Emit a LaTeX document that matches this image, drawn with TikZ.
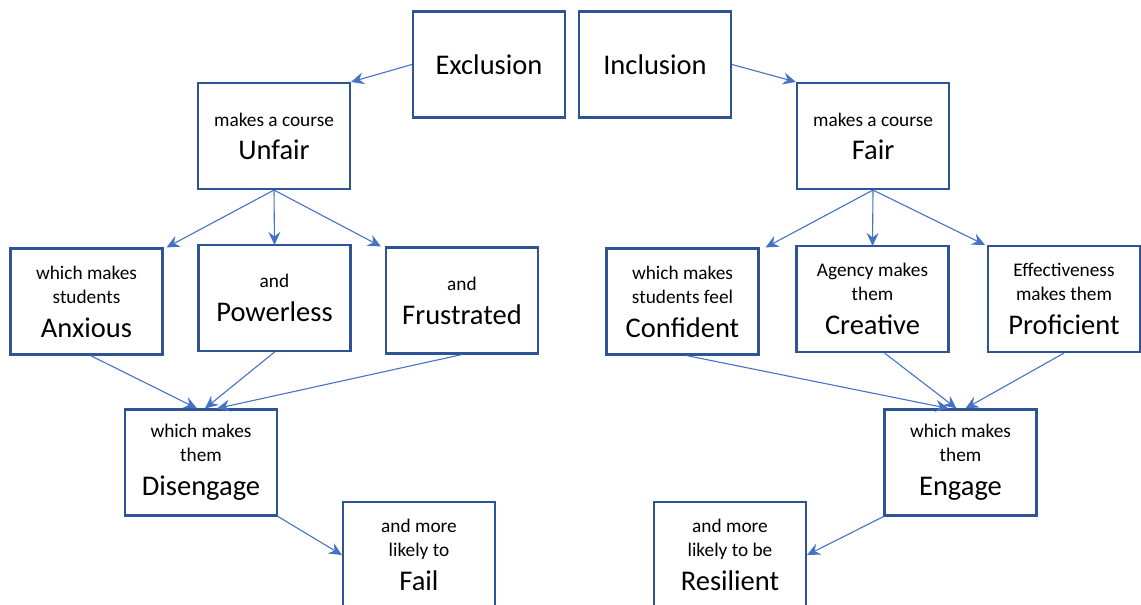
\documentclass[tikz,border=0pt]{standalone}
\usepackage{fontspec}
\setmainfont{Carlito}
\usetikzlibrary{arrows.meta}
\definecolor{boxblue}{HTML}{2F5496}
\definecolor{linkblue}{HTML}{4472C4}
\newcommand{\smalltxt}{\fontsize{19.3}{24}\selectfont}
\newcommand{\bigtxt}{\fontsize{28.5}{30}\selectfont}

\begin{document}
\begin{tikzpicture}[
		x=1pt, y=-1pt,
		every node/.style={
			draw=boxblue,
			line width=2.1pt,
			fill=white,
			align=center,
			inner sep=2pt,
			minimum width=152pt,
			minimum height=106pt,
			font=\smalltxt
		},
		flow/.style={
			-{Stealth[length=13pt,width=12pt,inset=4.5pt]},
			draw=linkblue,
			line width=1.1pt
		}
		]
		
		\useasboundingbox (0,0) rectangle (1141,605);
		
		% top row
		\node (excl) at (489,64.5) {{\bigtxt Exclusion}};
		\node (incl) at (655,64.5) {{\bigtxt Inclusion}};
		
		\node (unfair) at (274,136) {makes a course\\[9pt]{\bigtxt Unfair}};
		\node (fair) at (873,136) {makes a course\\[9pt]{\bigtxt Fair}};
		
		% feelings
		\node (anx) at (86.5,301.5) {which makes\\students\\[10pt]{\bigtxt Anxious}};
		\node (pow) at (274.5,298) {and\\[10pt]{\bigtxt Powerless}};
		\node (frus) at (462,300.5) {and\\[10pt]{\bigtxt Frustrated}};
		
		\node (conf) at (682.5,301.5) {which makes\\students feel\\[10pt]{\bigtxt Confident}};
		\node (crea) at (872.5,299) {Agency makes\\them\\[10pt]{\bigtxt Creative}};
		\node (prof) at (1064,299) {Effectiveness\\makes them\\[10pt]{\bigtxt Proficient}};
		
		% outcomes
		\node (dis) at (201,462.5) {which makes\\them\\[10pt]{\bigtxt Disengage}};
		\node (eng) at (960.5,462.5) {which makes\\them\\[10pt]{\bigtxt Engage}};
		
		\node (fail) at (419,555) {and more\\likely to\\[10pt]{\bigtxt Fail}};
		\node (resil) at (730,555) {and more\\likely to be\\[10pt]{\bigtxt Resilient}};
		
		\draw[flow] (excl.west)--(unfair.north east);
		\draw[flow] (incl.east)--(fair.north west);
		
		\draw[flow] (unfair.south)--([xshift=3pt]anx.north east);
		\draw[flow] (unfair.south)--([yshift=-1pt]pow.north);
		\draw[flow] (unfair.south)--([xshift=-4pt]frus.north west);
		
		\draw[flow] (fair.south)--([xshift=6pt]conf.north east);
		\draw[flow] (fair.south)--([yshift=-1pt]crea.north);
		\draw[flow] (fair.south)--([xshift=-2pt]prof.north west);
		
		\draw[flow] ([xshift=4pt]anx.south)--([xshift=-4pt]dis.north);
		\draw[flow] (pow.south)--([xshift=4pt]dis.north);
		\draw[flow] (frus.south)--([xshift=16pt]dis.north);
		
		\draw[flow] ([xshift=4pt]conf.south)--([xshift=-12pt]eng.north);
		\draw[flow] ([xshift=12pt]crea.south)--([xshift=-4pt]eng.north);
		\draw[flow] (prof.south)--([xshift=5pt]eng.north);
		
		\draw[flow] (dis.south east)--(fail.west);
		\draw[flow] (eng.south west)--(resil.east);
		
	\end{tikzpicture}
\end{document}
